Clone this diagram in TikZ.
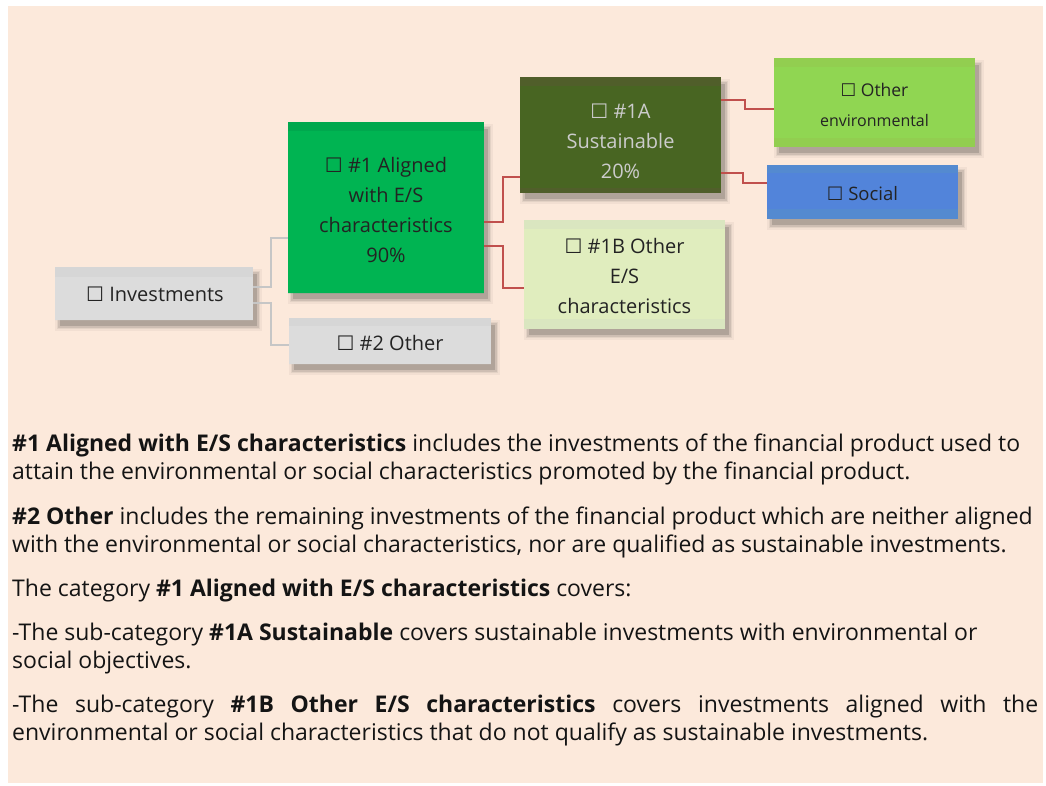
\documentclass[tikz,border=0pt]{standalone}
\usepackage{fontspec}
\setmainfont{Open Sans}[Ligatures=NoCommon]
\newfontfamily\symfont{DejaVu Sans}
\usetikzlibrary{calc}
\newcommand{\bx}{{\symfont\char"2610}}
\definecolor{bgpeach}{RGB}{252,233,219}
\definecolor{boxgray}{RGB}{220,220,220}
\definecolor{boxgraytop}{RGB}{214,214,214}
\definecolor{alignedgreen}{RGB}{0,180,82}
\definecolor{alignedtop}{RGB}{0,168,78}
\definecolor{olive}{RGB}{72,101,34}
\definecolor{olivetop}{RGB}{80,94,42}
\definecolor{palegreen}{RGB}{224,237,190}
\definecolor{palegreentop}{RGB}{218,230,192}
\definecolor{limegreen}{RGB}{144,214,82}
\definecolor{limegreentop}{RGB}{146,206,80}
\definecolor{socialblue}{RGB}{82,132,218}
\definecolor{socialbluetop}{RGB}{84,138,208}
\definecolor{linkred}{RGB}{192,80,77}
\definecolor{linkgray}{RGB}{198,198,198}
\definecolor{txtdark}{RGB}{35,35,35}
\pgfdeclarelayer{bgfill}
\pgfdeclarelayer{shadowlayer}
\pgfsetlayers{bgfill,shadowlayer,main}
\tikzset{
  catbox/.style={inner sep=0pt},
  boxtext/.style={inner sep=0pt, align=center, text=txtdark,
    font=\fontsize{20}{30}\selectfont},
  graylink/.style={draw=linkgray, line width=1.6pt},
  redlink/.style={draw=linkred, line width=1.4pt},
  para/.style={anchor=base west, inner sep=0pt, text=black!92,
    font=\fontsize{23}{28}\selectfont}
}
\newcommand{\softshadow}[1]{%
  \begin{pgfonlayer}{shadowlayer}
  \foreach \d/\o in {0/0.14,1.5/0.09,3/0.06,4.5/0.04}{
    \fill[black, opacity=\o] ($(#1.north west)+(5-\d,7-\d)$) rectangle ($(#1.south east)+(4+\d,6+\d)$);
  }
  \end{pgfonlayer}}
\newcommand{\bands}[4]{% node, color, top height, bottom height
  \fill[#2] (#1.north west) rectangle ($(#1.north east)+(0,#3)$);
  \fill[#2] (#1.south west) rectangle ($(#1.south east)+(0,-#4)$);}
\begin{document}
\begin{tikzpicture}[x=1pt,y=-1pt]
\useasboundingbox (0,0) rectangle (1046,785);
\begin{pgfonlayer}{bgfill}
\fill[bgpeach] (8,6) rectangle (1043,783);
\end{pgfonlayer}

% boxes
\node[catbox, fill=boxgray, minimum width=198pt, minimum height=53pt] (inv) at (154,293.5) {};
\node[catbox, fill=alignedgreen, minimum width=196pt, minimum height=171pt] (a1) at (386,207.5) {};
\node[catbox, fill=boxgray, minimum width=202pt, minimum height=46pt] (o2) at (390,341) {};
\node[catbox, fill=olive, minimum width=201pt, minimum height=116pt] (s1a) at (620.5,135) {};
\node[catbox, fill=palegreen, minimum width=201pt, minimum height=109pt] (o1b) at (624.5,274.5) {};
\node[catbox, fill=limegreen, minimum width=201pt, minimum height=89pt] (env) at (874.5,102.5) {};
\node[catbox, fill=socialblue, minimum width=191pt, minimum height=54pt] (soc) at (862.5,192) {};

\foreach \n in {inv,a1,o2,s1a,o1b,env,soc}{\softshadow{\n}}

\bands{inv}{boxgraytop}{10}{0}
\bands{o2}{boxgraytop}{8}{0}
\bands{a1}{alignedtop}{9}{0}
\bands{s1a}{olivetop}{9}{5}
\bands{o1b}{palegreentop}{9}{10}
\bands{env}{limegreentop}{9}{9}
\bands{soc}{socialbluetop}{8}{10}

% box texts
\node[boxtext] (inv-t) at ($(inv.center)+(1,1)$) {\bx\ Investments};
\node[boxtext] (a1-t) at ($(a1.center)+(0,2.5)$) {\bx\ \#1 Aligned\\with E/S\\characteristics\\90\%};
\node[boxtext] (o2-t) at ($(o2.center)+(0,2)$) {\bx\ \#2 Other};
\node[boxtext, text=black!20] (s1a-t) at ($(s1a.center)+(0,6)$) {\bx\ \#1A\\Sustainable\\20\%};
\node[boxtext] (o1b-t) at ($(o1b.center)+(0,1)$) {\bx\ \#1B Other\\E/S\\characteristics};
\node[boxtext, font=\fontsize{17.5}{30}\selectfont] (env-t) at ($(env.center)+(0,2)$) {\bx\ Other\\{\fontsize{16}{30}\selectfont environmental}};
\node[boxtext, font=\fontsize{18.5}{24}\selectfont] (soc-t) at ($(soc.center)+(0,2)$) {\bx\ Social};

% connectors
\draw[graylink] (inv.east |- 0,287) -- (271,287) |- (a1.west |- 0,238);
\draw[graylink] (inv.east |- 0,303) -- (271,303) |- (o2.west |- 0,345);
\draw[redlink] (a1.east |- 0,222) -- (503,222) |- (s1a.west |- 0,177);
\draw[redlink] (a1.east |- 0,246) -- (503,246) |- (o1b.west |- 0,288);
\draw[redlink] (s1a.east |- 0,100) -- (745,100) |- (env.west |- 0,109);
\draw[redlink] (s1a.east |- 0,173) -- (743,173) |- (soc.west |- 0,183);

% explanatory text
\node[para] (t1) at (12,451) {\textbf{\#1 Aligned with E/S characteristics} includes the investments of the financial product used to};
\node[para] (t2) at (12,479) {attain the environmental or social characteristics promoted by the financial product.};
\node[para] (t3) at (12,524) {\textbf{\#2 Other} includes the remaining investments of the financial product which are neither aligned};
\node[para] (t4) at (12,552) {with the environmental or social characteristics, nor are qualified as sustainable investments.};
\node[para] (t5) at (12,596) {The category \textbf{\#1 Aligned with E/S characteristics} covers:};
\node[para] (t6) at (12,640) {-The sub-category \textbf{\#1A Sustainable} covers sustainable investments with environmental or};
\node[para] (t7) at (12,668) {social objectives.};
\node[para] (t8) at (12,712) {\makebox[1026pt][s]{-The sub-category \textbf{\#1B Other E/S characteristics} covers investments aligned with the}};
\node[para] (t9) at (12,740) {environmental or social characteristics that do not qualify as sustainable investments.};
\end{tikzpicture}
\end{document}
